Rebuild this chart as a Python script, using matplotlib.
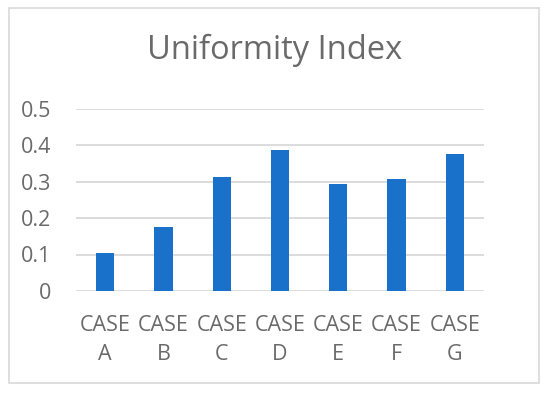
import matplotlib.pyplot as plt
from matplotlib.patches import Rectangle

cases = ["CASE\nA", "CASE\nB", "CASE\nC", "CASE\nD", "CASE\nE", "CASE\nF", "CASE\nG"]
uniformity = [0.103, 0.176, 0.311, 0.385, 0.292, 0.308, 0.375]
yticks = [0, 0.1, 0.2, 0.3, 0.4, 0.5]

plt.rcParams['font.family'] = ['Open Sans', 'DejaVu Sans']
gray = '#6a6a6a'

fig = plt.figure(figsize=(5.5, 3.94), dpi=100)
# outer chart border
fig.patches.append(Rectangle((8.5 / 550, 1 - 383 / 394), 530.5 / 550, 375 / 394,
                             transform=fig.transFigure, fill=False,
                             edgecolor='#d9d9d9', linewidth=1.2))

ax = fig.add_axes([76 / 550, 1 - 291 / 394, 408 / 550, 182.5 / 394])
x = range(len(cases))
ax.bar(x, uniformity, width=0.315, color='#1a71c9', zorder=3)
ax.set_xlim(-0.5, len(cases) - 0.5)
ax.set_ylim(0, 0.5)
ax.set_yticks(yticks)
ax.set_yticklabels(["0", "0.1", "0.2", "0.3", "0.4", "0.5"])
ax.set_xticks(list(x))
ax.set_xticklabels(cases, linespacing=1.55)
ax.yaxis.grid(True, color='#d9d9d9', linewidth=1.3, zorder=0)
for s in ax.spines.values():
    s.set_visible(False)
ax.tick_params(length=0, labelcolor=gray, labelsize=15.5)
ax.tick_params(axis='y', pad=18)
ax.tick_params(axis='x', pad=17)

fig.text(0.5, 1 - 50 / 394, "Uniformity Index", ha='center', va='center',
         fontsize=23.5, color=gray)

fig.savefig("out.png", dpi=100)
